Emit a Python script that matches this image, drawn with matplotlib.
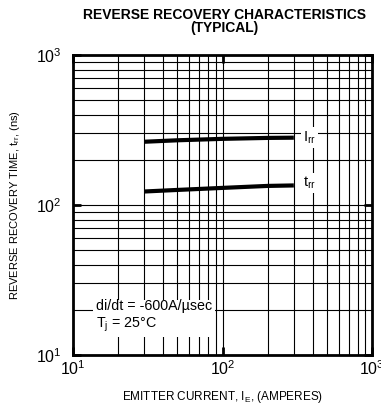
import matplotlib
matplotlib.use("Agg")
import matplotlib.pyplot as plt
from matplotlib.ticker import LogLocator, NullFormatter

plt.rcParams['font.family'] = ['Liberation Sans', 'DejaVu Sans']
plt.rcParams['mathtext.fontset'] = 'custom'
plt.rcParams['mathtext.rm'] = 'Liberation Sans'
plt.rcParams['mathtext.it'] = 'Liberation Sans'

# data
current = [30, 50, 100, 200, 300]
irr = [264, 270, 276, 280, 281]
trr = [123, 126, 130, 134, 135]

x_ticks = [10, 100, 1000]
y_ticks = [10, 100, 1000]
tick_labels = ['10$^{1}$', '10$^{2}$', '10$^{3}$']

fig = plt.figure(figsize=(3.81, 4.07), dpi=100)
ax = fig.add_axes([0.1916, 0.1278, 0.7848, 0.7371])

ax.set_xscale('log')
ax.set_yscale('log')
ax.set_xlim(10, 1000)
ax.set_ylim(10, 1000)

ax.xaxis.set_minor_locator(LogLocator(base=10, subs=range(2, 10)))
ax.yaxis.set_minor_locator(LogLocator(base=10, subs=range(2, 10)))
ax.xaxis.set_minor_formatter(NullFormatter())
ax.yaxis.set_minor_formatter(NullFormatter())
ax.set_xticks(x_ticks)
ax.set_xticklabels(tick_labels, fontsize=11.5)
ax.set_yticks(y_ticks)
ax.set_yticklabels(tick_labels, fontsize=11.5)

ax.grid(which='both', color='black', lw=0.8)
ax.tick_params(which='major', direction='in', length=6, width=2,
               top=True, right=True, pad=3)
ax.tick_params(axis='y', which='major', pad=8)
ax.tick_params(which='minor', length=0)
for s in ax.spines.values():
    s.set_linewidth(2)

ax.plot(current, irr, color='black', lw=3, solid_capstyle='butt')
ax.plot(current, trr, color='black', lw=3, solid_capstyle='butt')

box = dict(facecolor='white', edgecolor='none', pad=1.5)
ax.text(380, 281, 'I$_{\\mathregular{rr}}$', fontsize=10.5, va='center',
        ha='center', bbox=box)
ax.text(380, 140, 't$_{\\mathregular{rr}}$', fontsize=10.5, va='center',
        ha='center', bbox=box)
ax.text(14.2, 18, 'di/dt = -600A/\u00b5sec\nT$_{\\mathregular{j}}$ = 25\u00b0C',
        fontsize=10.3, va='center', ha='left', linespacing=1.2,
        bbox=dict(facecolor='white', edgecolor='none', pad=2))

ax.set_xlabel('EMITTER CURRENT, I$_{\\mathregular{E}}$, (AMPERES)',
              fontsize=8.5, labelpad=8)
ax.set_ylabel('REVERSE RECOVERY TIME, t$_{\\mathregular{rr}}$, (ns)',
              fontsize=8, labelpad=10)
fig.text(0.588, 0.947, 'REVERSE RECOVERY CHARACTERISTICS\n(TYPICAL)',
         fontsize=10, fontweight='bold', ha='center', va='center',
         linespacing=0.95)

fig.savefig('out.png', dpi=100)
